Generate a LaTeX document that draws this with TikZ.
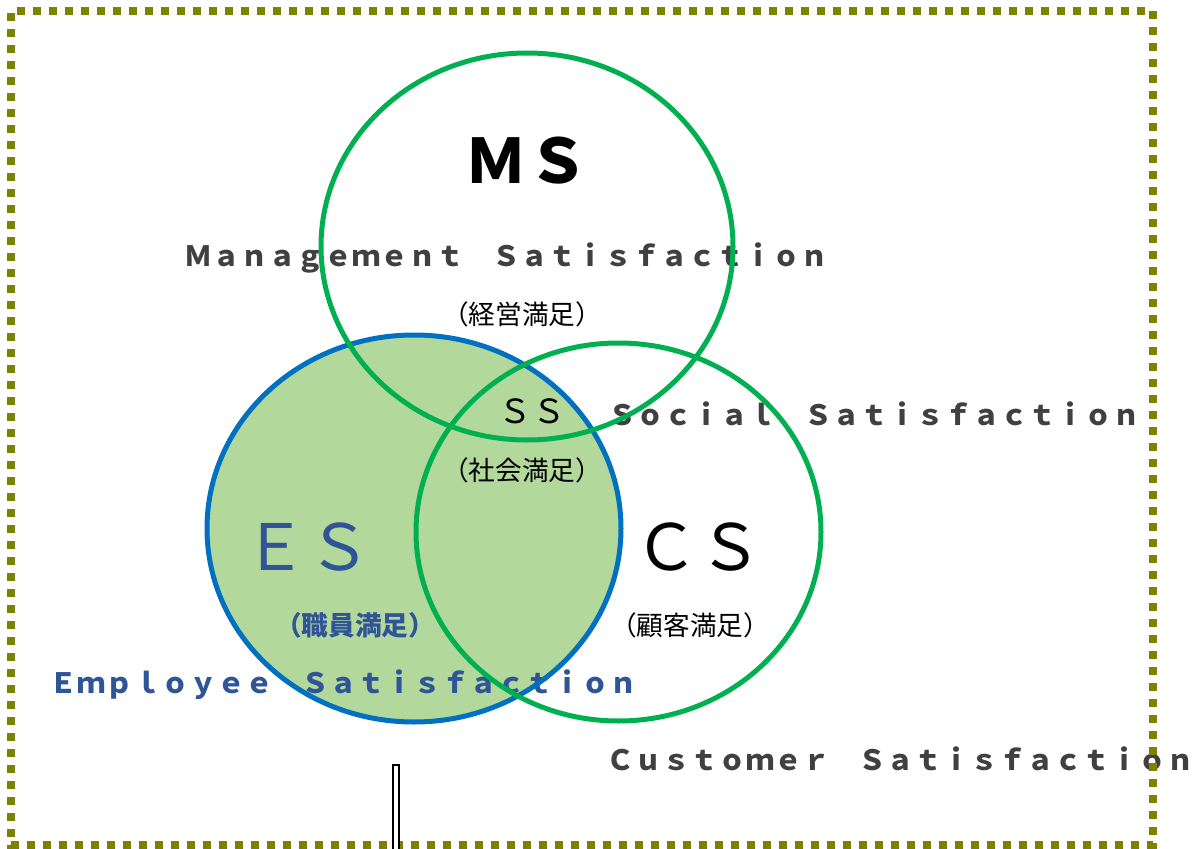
\documentclass[tikz,border=0pt]{standalone}
\usepackage{fontspec}
\setmainfont{Noto Sans CJK JP}

\definecolor{ringgreen}{HTML}{00B050}
\definecolor{ringblue}{HTML}{0070C0}
\definecolor{esfill}{HTML}{B3D89C}
\definecolor{estext}{HTML}{2F5597}
\definecolor{subtext}{HTML}{404040}
\definecolor{frame}{HTML}{808000}

\begin{document}
\begin{tikzpicture}[x=0.75pt,y=-0.75pt,
    lbl/.style={inner sep=0pt,anchor=base},
    big/.style={lbl,font=\fontsize{48}{48}\selectfont},
    kanji/.style={inner sep=0pt,text height=0.88em,text depth=0.12em,font=\fontsize{20}{20}\selectfont},
    wide/.style={lbl,anchor=base west,text=subtext,font=\fontsize{21}{21}\selectfont\bfseries},
    ring/.style={line width=3.75pt}]
\useasboundingbox (0,0) rectangle (1200,849);

% ES disc
\fill[esfill] (414,528.5) ellipse [x radius=207,y radius=193.5];

% MS labels
\node[lbl,font=\fontsize{46}{46}\selectfont\bfseries] (ms) at (527,183) {ＭＳ};
\node[wide] (msen) at (184,266) {Ｍａｎａｇｅｍｅｎｔ　Ｓａｔｉｓｆａｃｔｉｏｎ};
\node[kanji] (msjp) at (522,319) {（経営満足）};

% SS labels
\node[lbl,font=\fontsize{25}{25}\selectfont] (ss) at (532,423) {ＳＳ};
\node[wide] (ssen) at (608,425) {Ｓｏｃｉａｌ　Ｓａｔｉｓｆａｃｔｉｏｎ};
\node[kanji] (ssjp) at (522,475) {（社会満足）};

% ES labels
\node[big,text=estext] (es) at (307,570) {ＥＳ};
\node[kanji,text=estext,font=\fontsize{20}{20}\selectfont\bfseries] (esjp) at (355,630) {（職員満足）};
\node[wide,text=estext] (esen) at (49,693) {Ｅｍｐｌｏｙｅｅ　Ｓａｔｉｓｆａｃｔｉｏｎ};

% CS labels
\node[big] (cs) at (698,570) {ＣＳ};
\node[kanji] (csjp) at (690,630) {（顧客満足）};
\node[wide] (csen) at (606,770) {Ｃｕｓｔｏｍｅｒ　Ｓａｔｉｓｆａｃｔｉｏｎ};

% rings
\draw[ring,ringblue] (414,528.5) ellipse [x radius=207,y radius=193.5];
\draw[ring,ringgreen] (527,246.5) ellipse [x radius=206,y radius=193.5];
\draw[ring,ringgreen] (618.5,532) ellipse [x radius=202.5,y radius=189];

% dotted frame
\draw[frame,line width=6pt,dash pattern=on 6pt off 6pt,dash phase=-1.5pt] (11,11) rectangle (1153,845);

% post at the bottom
\draw[line width=1.5pt,fill=white] (393,765) rectangle (399,860);
\end{tikzpicture}
\end{document}
